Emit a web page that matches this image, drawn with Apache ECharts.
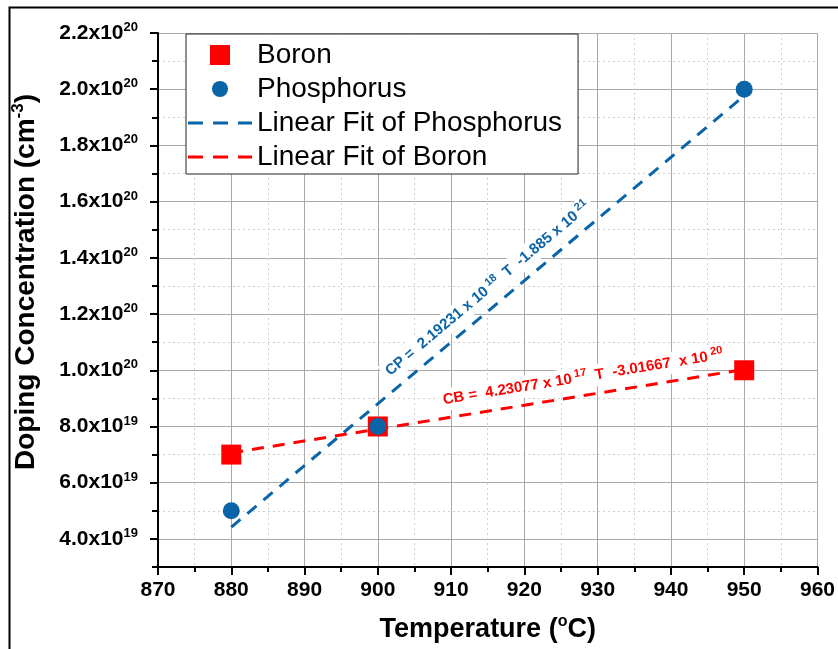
<!DOCTYPE html>
<html>
<head>
<meta charset="utf-8">
<script src="https://cdn.jsdelivr.net/npm/echarts@6/dist/echarts.min.js"></script>
<style>
  html, body { margin: 0; padding: 0; background: #fff; }
  #chart { width: 838px; height: 649px; }
</style>
</head>
<body>
<div id="chart"></div>
<script>
// data
const temps = [880, 900, 950];
const boron = [7.0e19, 8.0e19, 1.0e20];
const phosphorus = [5.0e19, 8.0e19, 2.0e20];
// end points of the two linear fits
const fitTemps = [880, 950];
const fitPhosphorus = [4.42e19, 1.977e20];
const fitBoron = [7.06e19, 1.003e20];
// major y ticks (labelled)
const yMajor = [4e19, 6e19, 8e19, 1e20, 1.2e20, 1.4e20, 1.6e20, 1.8e20, 2.0e20, 2.2e20];
// where the fit equations sit (data coords)
const eqPhosAt = [915, 1.29e20];
const eqBoronAt = [928, 9.75e19];

const FONT = 'Liberation Sans, Arial, sans-serif';
const BLUE = '#0a64a8';
const RED = '#ff0000';

// legend icons: box keeps 20x20 / 64x20 so keepAspect leaves them alone
const ICON_SQUARE = 'path://M0,0L20,0L20,20L0,20Z';
const ICON_DOT = 'path://M0,0L0,0M20,20L20,20M18,10A8,8,0,1,1,2,10A8,8,0,1,1,18,10Z';
const ICON_DASH = 'path://M0,0L0,0M64,20L64,20M0,8.5L15,8.5L15,11.5L0,11.5ZM25,8.5L40,8.5L40,11.5L25,11.5ZM50,8.5L64,8.5L64,11.5L50,11.5Z';

function sciLabel(v) {
  const e = Math.floor(Math.log10(v) + 1e-9);
  const m = v / Math.pow(10, e);
  return '{b|' + m.toFixed(1) + 'x10}{s|' + e + '}';
}

const chart = echarts.init(document.getElementById('chart'));

const option = {
  backgroundColor: '#fff',
  animation: false,
  grid: { left: 158, right: 15, top: 33, bottom: 82 },
  legend: {
    orient: 'vertical',
    left: 186,
    top: 34,
    padding: [7, 16, 3, 2],
    itemGap: 6,
    itemWidth: 64,
    itemHeight: 20,
    backgroundColor: '#fff',
    borderColor: '#222',
    borderWidth: 1,
    symbolKeepAspect: true,
    textStyle: { fontFamily: FONT, fontSize: 28, color: '#000', lineHeight: 26 },
    data: [
      { name: 'Boron', icon: ICON_SQUARE },
      { name: 'Phosphorus', icon: ICON_DOT },
      { name: 'Linear Fit of Phosphorus', icon: ICON_DASH },
      { name: 'Linear Fit of Boron', icon: ICON_DASH }
    ]
  },
  xAxis: {
    type: 'value',
    min: 870,
    max: 960,
    interval: 10,
    name: '{t|Temperature (}{s|o}{t|C)}',
    nameLocation: 'middle',
    nameGap: 47,
    nameTextStyle: {
      rich: {
        t: { fontFamily: FONT, fontSize: 27, fontWeight: 'bold', color: '#000', lineHeight: 32 },
        s: { fontFamily: FONT, fontSize: 16, fontWeight: 'bold', color: '#000', lineHeight: 14, verticalAlign: 'top' }
      }
    },
    axisLine: { lineStyle: { color: '#000', width: 2 } },
    axisTick: { length: 8, lineStyle: { color: '#000', width: 2 } },
    minorTick: { show: true, splitNumber: 2, length: 5, lineStyle: { color: '#000', width: 2 } },
    axisLabel: { fontFamily: FONT, fontSize: 21, fontWeight: 'bold', color: '#000', margin: 13 },
    splitLine: { show: true, lineStyle: { color: '#a8a8a8', width: 1 } },
    minorSplitLine: { show: true, lineStyle: { color: '#cfcfcf', width: 1, type: [2, 3] } }
  },
  yAxis: [
    {
      // minor grid + short ticks
      type: 'value',
      min: 3e19,
      max: 2.2e20,
      interval: 1e19,
      position: 'left',
      axisLine: { show: true, lineStyle: { color: '#000', width: 2 } },
      axisTick: { show: true, length: 6, lineStyle: { color: '#000', width: 2 } },
      axisLabel: { show: false },
      splitLine: { show: true, lineStyle: { color: '#cfcfcf', width: 1, type: [2, 3] } }
    },
    {
      // major grid, long ticks and labels
      type: 'value',
      min: 3e19,
      max: 2.2e20,
      position: 'left',
      axisLine: { show: false },
      axisTick: { show: true, length: 8, customValues: yMajor, lineStyle: { color: '#000', width: 2 } },
      axisLabel: {
        customValues: yMajor,
        margin: 20,
        formatter: sciLabel,
        rich: {
          b: { fontFamily: FONT, fontSize: 21, fontWeight: 'bold', color: '#000', lineHeight: 24 },
          s: { fontFamily: FONT, fontSize: 13, fontWeight: 'bold', color: '#000', lineHeight: 11, verticalAlign: 'top' }
        }
      },
      splitLine: { show: true, lineStyle: { color: '#a8a8a8', width: 1 } },
      name: '{t|Doping Concentration (cm}{s|-3}{t|)}',
      nameLocation: 'middle',
      nameGap: 116,
      nameTextStyle: {
        padding: [0, 0, 0, 36],
        rich: {
          t: { fontFamily: FONT, fontSize: 28, fontWeight: 'bold', color: '#000', lineHeight: 32 },
          s: { fontFamily: FONT, fontSize: 17, fontWeight: 'bold', color: '#000', lineHeight: 14, verticalAlign: 'top' }
        }
      }
    }
  ],
  series: [
    {
      name: 'Linear Fit of Phosphorus',
      type: 'line',
      symbol: 'none',
      data: fitTemps.map((t, i) => [t, fitPhosphorus[i]]),
      itemStyle: { color: BLUE },
      lineStyle: { color: BLUE, width: 3, type: [12, 9] },
      z: 2
    },
    {
      name: 'Linear Fit of Boron',
      type: 'line',
      symbol: 'none',
      data: fitTemps.map((t, i) => [t, fitBoron[i]]),
      itemStyle: { color: RED },
      lineStyle: { color: RED, width: 3, type: [12, 9] },
      z: 2
    },
    {
      name: 'Boron',
      type: 'scatter',
      symbol: 'rect',
      symbolSize: 20,
      data: temps.map((t, i) => [t, boron[i]]),
      itemStyle: { color: RED, opacity: 1 },
      z: 3
    },
    {
      name: 'Phosphorus',
      type: 'scatter',
      symbol: 'circle',
      symbolSize: 17,
      data: temps.map((t, i) => [t, phosphorus[i]]),
      itemStyle: { color: BLUE, opacity: 1 },
      z: 4
    }
  ]
};

chart.setOption(option);

// equations, placed and rotated along their fit lines
function angleOf(ys) {
  const p1 = chart.convertToPixel({ seriesIndex: 0 }, [fitTemps[0], ys[0]]);
  const p2 = chart.convertToPixel({ seriesIndex: 0 }, [fitTemps[1], ys[1]]);
  return Math.atan2(p1[1] - p2[1], p2[0] - p1[0]);
}

function eqText(at, ys, txt, color, size) {
  const p = chart.convertToPixel({ seriesIndex: 0 }, at);
  return {
    type: 'text',
    x: p[0],
    y: p[1],
    rotation: angleOf(ys),
    z: 20,
    style: {
      text: txt,
      align: 'center',
      verticalAlign: 'middle',
      backgroundColor: '#fff',
      padding: [1, 4],
      rich: {
        a: { fontFamily: FONT, fontSize: size, fontWeight: 'bold', fill: color, lineHeight: 20 },
        s: { fontFamily: FONT, fontSize: 11, fontWeight: 'bold', fill: color, lineHeight: 9, verticalAlign: 'top' }
      }
    }
  };
}

chart.setOption({
  graphic: [
    {
      type: 'rect',
      silent: true,
      shape: { x: 9.5, y: 7.5, width: 1000, height: 1000 },
      style: { fill: 'none', stroke: '#000', lineWidth: 2 }
    },
    eqText(eqPhosAt, fitPhosphorus, '{a|CP =  2.19231 x 10}{s| 18}{a|  T  -1.885 x 10}{s| 21}', BLUE, 15),
    eqText(eqBoronAt, fitBoron, '{a|CB =  4.23077 x 10}{s| 17}{a|  T  -3.01667  x 10}{s| 20}', RED, 15)
  ]
});
</script>
</body>
</html>
